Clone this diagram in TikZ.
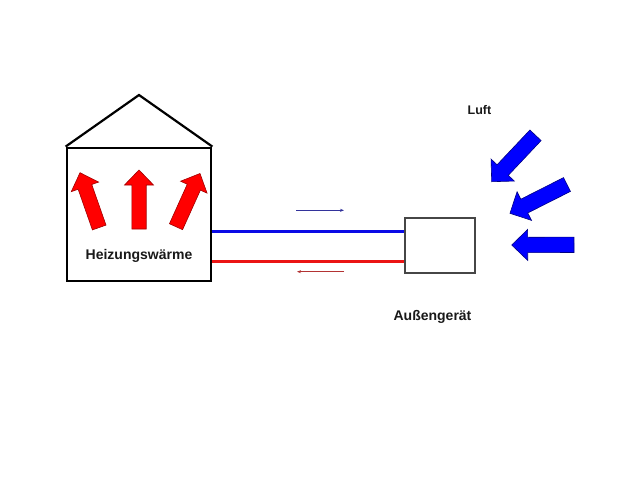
\documentclass[tikz,border=0pt]{standalone}
\usepackage{fontspec}
\setmainfont{Liberation Sans}
\usetikzlibrary{calc,arrows.meta}
\definecolor{pipeblue}{RGB}{10,10,230}
\definecolor{pipered}{RGB}{235,20,20}
\definecolor{redline}{RGB}{160,0,0}
\definecolor{blueline}{RGB}{0,0,130}
\definecolor{unitgray}{RGB}{70,70,70}
\newcommand\fatarrow[6]{%
  \coordinate (faM) at ($(#2)!#5!(#1)$);
  \draw[#6] ($(#1)!#3!90:(#2)$) -- ($(faM)!#3!90:(#2)$) -- ($(faM)!#4!90:(#2)$) -- (#2)
     -- ($(faM)!#4!-90:(#2)$) -- ($(faM)!#3!-90:(#2)$) -- ($(#1)!#3!-90:(#2)$) -- cycle;}
\tikzset{
  heat/.style={fill=red,draw=redline,line width=0.6pt,line join=miter},
  air/.style={fill=blue,draw=blueline,line width=0.6pt,line join=miter},
  label/.style={font=\bfseries\fontsize{14}{16}\selectfont,text=black!90},
  bluepipe/.style={draw=pipeblue,line width=3pt},
  redpipe/.style={draw=pipered,line width=3pt},
  flowblue/.style={draw=blueline!80!white,line width=0.8pt,-{Stealth[length=4pt,width=3pt]}},
  flowred/.style={draw=redline!80!white,line width=0.8pt,-{Stealth[length=4pt,width=3pt]}},
}
\begin{document}
\begin{tikzpicture}[x=1pt,y=-1pt]
\useasboundingbox (0,0) rectangle (640,480);
\fill[white] (0,0) rectangle (640,480);
% house
\node[draw=black,line width=2.8pt,minimum width=144pt,minimum height=133pt,inner sep=0pt] (house) at (139,214.5) {};
\coordinate (apex) at (139,95);
\draw[line width=2.2pt,line join=miter] (house.north west) -- (apex) -- (house.north east);
% red heat arrows
\coordinate (r1t) at (99.2,227.5); \coordinate (r1p) at (80,172.7);
\coordinate (r2t) at (139,229); \coordinate (r2p) at (139,170);
\coordinate (r3t) at (176,226.7); \coordinate (r3p) at (200,173.5);
\fatarrow{r1t}{r1p}{7.2pt}{14.5pt}{15pt}{heat}
\fatarrow{r2t}{r2p}{7.2pt}{14.5pt}{15pt}{heat}
\fatarrow{r3t}{r3p}{7.2pt}{14.5pt}{15pt}{heat}
\node[label] (heiz) at (139,256) {Heizungswärme};
% outdoor unit
\node[draw=unitgray,line width=1.8pt,minimum width=70pt,minimum height=55pt,inner sep=0pt] (unit) at (440,245.5) {};
\node[label] (aussen) at (432.5,317) {Außengerät};
% pipes
\draw[bluepipe] (house.east |- 0,231) -- (unit.west |- 0,231);
\draw[redpipe] (house.east |- 0,261) -- (unit.west |- 0,261);
% flow arrows
\coordinate (fb1) at (296,210.3); \coordinate (fb2) at (344,210.3);
\coordinate (fr1) at (344,271.7); \coordinate (fr2) at (297,271.7);
\draw[flowblue] (fb1) -- (fb2);
\draw[flowred] (fr1) -- (fr2);
% air arrows
\node[label,font=\bfseries\fontsize{12.5}{14}\selectfont] (luft) at (479.5,110) {Luft};
\coordinate (b1t) at (535.5,135.3); \coordinate (b1p) at (491.7,181.7);
\coordinate (b2t) at (567,184.5); \coordinate (b2p) at (510,213.3);
\coordinate (b3t) at (574,244.8); \coordinate (b3p) at (511.7,245);
\fatarrow{b1t}{b1p}{7.7pt}{16pt}{16pt}{air}
\fatarrow{b2t}{b2p}{7.7pt}{16pt}{16pt}{air}
\fatarrow{b3t}{b3p}{7.7pt}{15.5pt}{16pt}{air}
\end{tikzpicture}
\end{document}
